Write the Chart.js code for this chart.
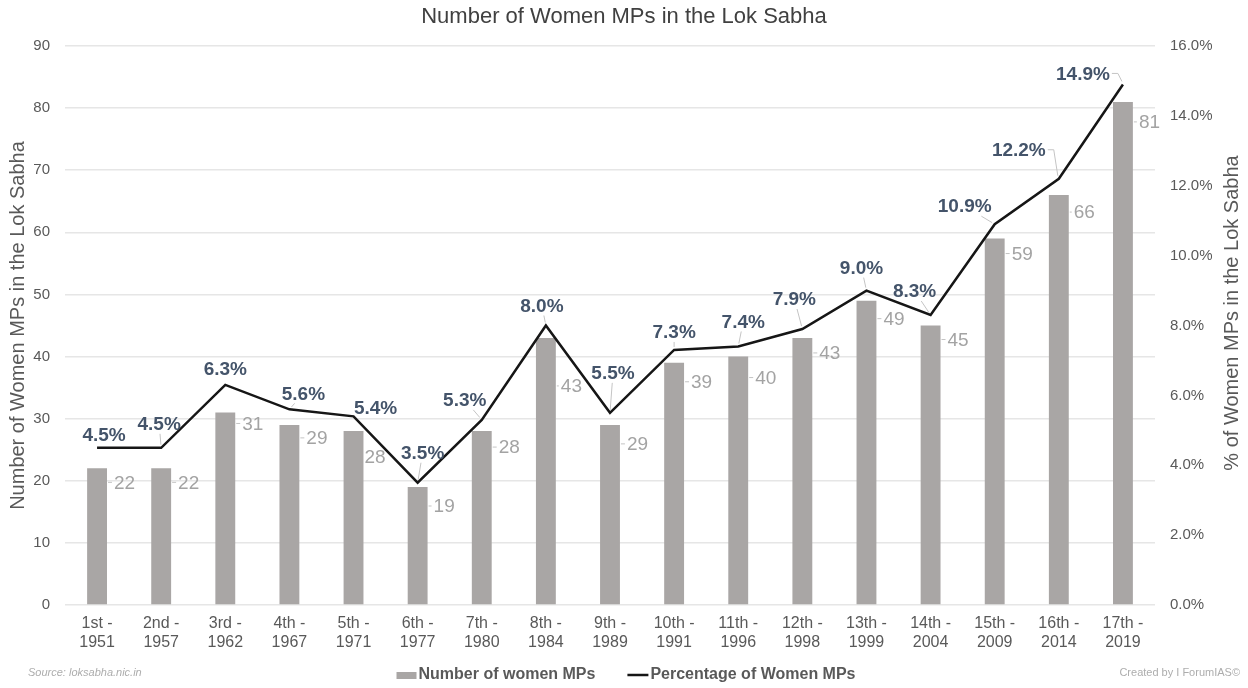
<!DOCTYPE html>
<html>
<head>
<meta charset="utf-8">
<script src="https://cdn.jsdelivr.net/npm/chart.js@4.4.0/dist/chart.umd.min.js"></script>
<style>
html,body{margin:0;padding:0;background:#ffffff;}
#wrap{width:1248px;height:688px;position:relative;}
</style>
</head>
<body>
<div id="wrap"><canvas id="c" width="1248" height="688"></canvas></div>
<script>
// ---- data ----
const categories = [
  ["1st -","1951"],["2nd -","1957"],["3rd -","1962"],["4th -","1967"],["5th -","1971"],
  ["6th -","1977"],["7th -","1980"],["8th -","1984"],["9th -","1989"],["10th -","1991"],
  ["11th -","1996"],["12th -","1998"],["13th -","1999"],["14th -","2004"],["15th -","2009"],
  ["16th -","2014"],["17th -","2019"]
];
const womenMPs = [22,22,31,29,28,19,28,43,29,39,40,43,49,45,59,66,81];
const womenPct = [4.5,4.5,6.3,5.6,5.4,3.5,5.3,8.0,5.5,7.3,7.4,7.9,9.0,8.3,10.9,12.2,14.9];
const seriesNames = ["Number of women MPs","Percentage of Women MPs"];
const chartTitle = "Number of Women MPs in the Lok Sabha";
const leftAxisTitle = "Number of Women MPs in the Lok Sabha";
const rightAxisTitle = "% of Women MPs in the Lok Sabha";
const sourceText = "Source: loksabha.nic.in";
const creditText = "Created by I ForumIAS\u00A9";

// ---- label placement (pixel offsets relative to marks) ----
const pctLabelOffsets = [[7,-13],[-2,-24],[0,-16],[14,-16],[22,-9],[5,-30],[-17,-20],[-4,-20],[3,-40],[0,-18],[5,-25],[-8,-30],[-5,-23],[-16,-24],[-30,-18],[-40,-29],[-40,-11]];
const barLabelOffsets = [[7,14],[7,14],[7,11],[7,13],[1,26],[6,19],[7,16],[5,48],[7,19],[7,19],[7,21],[7,15],[7,18],[7,14],[7,15],[5,17],[6,20]];

const FONT = '"Liberation Sans", Arial, Helvetica, sans-serif';
const BAR_COLOR = '#A9A6A5';
const LINE_COLOR = '#161616';
const PCT_COLOR = '#44546A';
const BARLBL_COLOR = '#A3A3A3';
const TICK_COLOR = '#595959';
const LEADER_COLOR = '#C4C4C4';

const labelPlugin = {
  id: 'labels',
  afterDatasetsDraw(chart) {
    const ctx = chart.ctx;
    const barMeta = chart.getDatasetMeta(1);
    const lineMeta = chart.getDatasetMeta(0);
    ctx.save();
    // bar value labels
    ctx.font = '19px ' + FONT;
    ctx.fillStyle = BARLBL_COLOR;
    ctx.textBaseline = 'middle';
    ctx.textAlign = 'left';
    barMeta.data.forEach((bar, i) => {
      const right = bar.x + bar.width / 2;
      const [dx, dy] = barLabelOffsets[i];
      const tx = right + dx;
      const ty = bar.y + dy;
      if (dx > 3) {
        ctx.strokeStyle = LEADER_COLOR;
        ctx.lineWidth = 1;
        ctx.beginPath();
        ctx.moveTo(right + 1, ty);
        ctx.lineTo(tx - 2, ty);
        ctx.stroke();
      }
      ctx.fillText(String(womenMPs[i]), tx, ty + 1);
    });
    // percentage labels
    ctx.font = 'bold 19px ' + FONT;
    ctx.textAlign = 'center';
    lineMeta.data.forEach((pt, i) => {
      const txt = womenPct[i].toFixed(1) + '%';
      const [dx, dy] = pctLabelOffsets[i];
      const cx = pt.x + dx, cy = pt.y + dy;
      const hw = ctx.measureText(txt).width / 2 + 2;
      const hh = 10;
      ctx.strokeStyle = LEADER_COLOR;
      ctx.lineWidth = 1;
      if (Math.abs(dx) > hw + 10) {
        const sx = dx < 0 ? cx + hw : cx - hw;
        const ex = sx + (dx < 0 ? 6 : -6);
        ctx.beginPath();
        ctx.moveTo(sx, cy);
        ctx.lineTo(ex, cy);
        ctx.lineTo(pt.x - (dx < 0 ? 1 : -1), pt.y - 3);
        ctx.stroke();
      } else {
        const vx = pt.x - cx, vy = pt.y - cy;
        const t = Math.min(Math.abs(hw / (vx || 1e-6)), Math.abs(hh / (vy || 1e-6)));
        const sx = cx + vx * t, sy = cy + vy * t;
        const len = Math.hypot(pt.x - sx, pt.y - sy);
        if (len > 6) {
          const ex = pt.x - (pt.x - sx) / len * 3, ey = pt.y - (pt.y - sy) / len * 3;
          ctx.beginPath();
          ctx.moveTo(sx, sy);
          ctx.lineTo(ex, ey);
          ctx.stroke();
        }
      }
      ctx.fillStyle = PCT_COLOR;
      ctx.fillText(txt, cx, cy + 1);
    });
    ctx.restore();
  },
  afterDraw(chart) {
    const ctx = chart.ctx;
    const area = chart.chartArea;
    ctx.save();
    // right axis title (reads bottom to top)
    ctx.font = '20px ' + FONT;
    ctx.fillStyle = TICK_COLOR;
    ctx.textAlign = 'center';
    ctx.textBaseline = 'middle';
    ctx.translate(1232, 313);
    ctx.rotate(-Math.PI / 2);
    ctx.fillText(rightAxisTitle, 0, 0);
    ctx.restore();

    // legend
    ctx.save();
    ctx.font = 'bold 16px ' + FONT;
    ctx.textBaseline = 'middle';
    ctx.textAlign = 'left';
    const w1 = ctx.measureText(seriesNames[0]).width;
    const w2 = ctx.measureText(seriesNames[1]).width;
    const total = 20 + 2 + w1 + 32 + 21 + 2 + w2;
    let x = 626 - total / 2;
    const y = 675;
    ctx.fillStyle = BAR_COLOR;
    ctx.fillRect(x, y - 3, 20, 7);
    x += 22;
    ctx.fillStyle = TICK_COLOR;
    ctx.fillText(seriesNames[0], x, y);
    x += w1 + 32;
    ctx.strokeStyle = LINE_COLOR;
    ctx.lineWidth = 2.5;
    ctx.beginPath();
    ctx.moveTo(x, y);
    ctx.lineTo(x + 21, y);
    ctx.stroke();
    x += 23;
    ctx.fillText(seriesNames[1], x, y);

    // source & credit
    ctx.font = 'italic 11px ' + FONT;
    ctx.fillStyle = '#ADADAD';
    ctx.textAlign = 'left';
    ctx.fillText(sourceText, 28, 673);
    ctx.font = '11px ' + FONT;
    ctx.textAlign = 'right';
    ctx.fillText(creditText, 1240, 673);
    ctx.restore();
  }
};

new Chart(document.getElementById('c'), {
  data: {
    labels: categories,
    datasets: [
      {
        type: 'line',
        label: seriesNames[1],
        data: womenPct,
        yAxisID: 'yPct',
        borderColor: LINE_COLOR,
        backgroundColor: LINE_COLOR,
        borderWidth: 2.5,
        pointRadius: 0,
        tension: 0,
        order: 0
      },
      {
        type: 'bar',
        label: seriesNames[0],
        data: womenMPs,
        yAxisID: 'y',
        backgroundColor: BAR_COLOR,
        borderWidth: 0,
        categoryPercentage: 1.0,
        barPercentage: 0.31,
        order: 1
      }
    ]
  },
  options: {
    responsive: false,
    animation: false,
    devicePixelRatio: 1,
    layout: { padding: { top: 0, left: 0, right: 0, bottom: 31 } },
    plugins: {
      legend: { display: false },
      tooltip: { enabled: false },
      title: {
        display: true,
        text: chartTitle,
        color: '#404040',
        font: { family: FONT, size: 22, weight: 'normal' },
        padding: { top: 4, bottom: 15.6 }
      }
    },
    scales: {
      x: {
        grid: { display: false, drawTicks: false },
        border: { display: false },
        ticks: {
          color: TICK_COLOR,
          font: { family: FONT, size: 16 },
          padding: 9,
          maxRotation: 0,
          autoSkip: false
        },
        afterFit(s) { s.height = 52; }
      },
      y: {
        position: 'left',
        min: 0, max: 90,
        grid: { color: '#E6E6E6', lineWidth: 1.5, drawTicks: false },
        border: { display: false },
        ticks: {
          stepSize: 10,
          color: TICK_COLOR,
          font: { family: FONT, size: 15 },
          padding: 15
        },
        title: {
          display: true,
          text: leftAxisTitle,
          color: TICK_COLOR,
          font: { family: FONT, size: 20 },
          padding: { top: 6, bottom: 0 }
        },
        afterFit(s) { s.width = 65; }
      },
      yPct: {
        position: 'right',
        min: 0, max: 16,
        grid: { display: false, drawTicks: false },
        border: { display: false },
        ticks: {
          stepSize: 2,
          color: TICK_COLOR,
          font: { family: FONT, size: 15 },
          padding: 15,
          callback: (v) => Number(v).toFixed(1) + '%'
        },
        afterFit(s) { s.width = 93; }
      }
    }
  },
  plugins: [labelPlugin]
});
</script>
</body>
</html>
